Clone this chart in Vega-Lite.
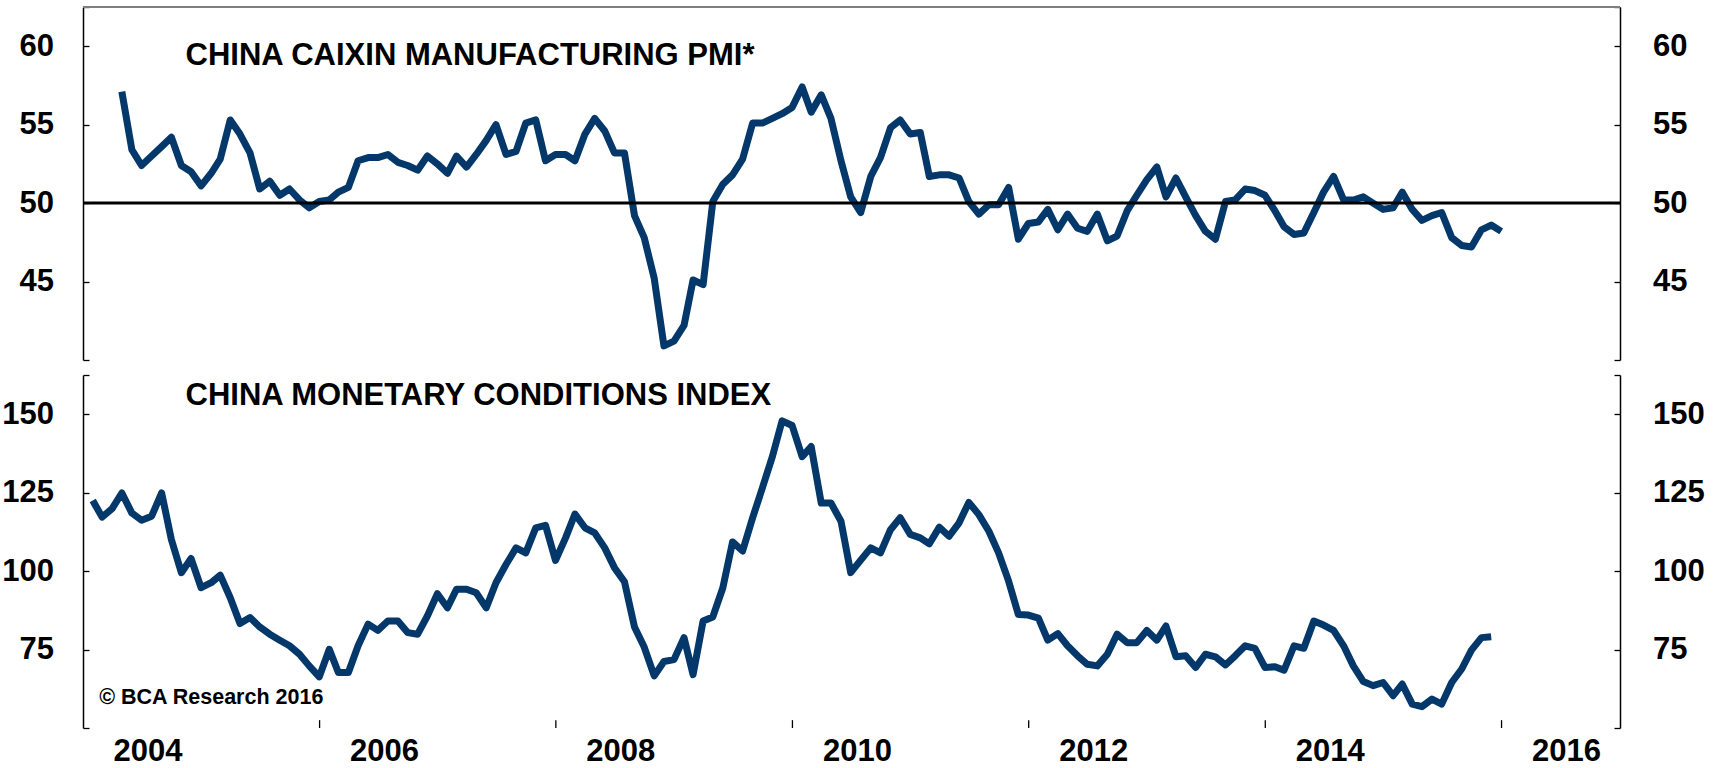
{
  "$schema": "https://vega.github.io/schema/vega-lite/v6.json",
  "background": "white",
  "padding": {"left": 1, "top": 6, "right": 5, "bottom": 0},
  "spacing": 13,
  "config": {
    "view": {"stroke": null},
    "axis": {"labelFont": "Liberation Sans", "labelFontSize": 31, "labelFontWeight": "bold", "labelColor": "black", "domainColor": "black", "tickColor": "black", "grid": false, "title": null, "domainWidth": 1.5, "tickWidth": 1.3},
    "text": {"font": "Liberation Sans", "fontWeight": "bold", "color": "black"}
  },
  "datasets": {
    "pmi": [
      {"date":"2004-04-30","value":57.1},{"date":"2004-05-31","value":53.4},{"date":"2004-06-30","value":52.4},{"date":"2004-07-31","value":53.0},{"date":"2004-08-31","value":53.6},{"date":"2004-09-30","value":54.2},{"date":"2004-10-31","value":52.4},{"date":"2004-11-30","value":52.0},{"date":"2004-12-31","value":51.1},
      {"date":"2005-01-31","value":51.9},{"date":"2005-02-28","value":52.8},{"date":"2005-03-31","value":55.3},{"date":"2005-04-30","value":54.4},{"date":"2005-05-31","value":53.2},{"date":"2005-06-30","value":50.9},{"date":"2005-07-31","value":51.4},{"date":"2005-08-31","value":50.5},{"date":"2005-09-30","value":50.9},{"date":"2005-10-31","value":50.2},{"date":"2005-11-30","value":49.7},{"date":"2005-12-31","value":50.1},
      {"date":"2006-01-31","value":50.2},{"date":"2006-02-28","value":50.7},{"date":"2006-03-31","value":51.0},{"date":"2006-04-30","value":52.7},{"date":"2006-05-31","value":52.9},{"date":"2006-06-30","value":52.9},{"date":"2006-07-31","value":53.1},{"date":"2006-08-31","value":52.6},{"date":"2006-09-30","value":52.4},{"date":"2006-10-31","value":52.1},{"date":"2006-11-30","value":53.0},{"date":"2006-12-31","value":52.5},
      {"date":"2007-01-31","value":51.9},{"date":"2007-02-28","value":53.0},{"date":"2007-03-31","value":52.3},{"date":"2007-04-30","value":53.1},{"date":"2007-05-31","value":54.0},{"date":"2007-06-30","value":55.0},{"date":"2007-07-31","value":53.1},{"date":"2007-08-31","value":53.3},{"date":"2007-09-30","value":55.1},{"date":"2007-10-31","value":55.3},{"date":"2007-11-30","value":52.7},{"date":"2007-12-31","value":53.1},
      {"date":"2008-01-31","value":53.1},{"date":"2008-02-29","value":52.7},{"date":"2008-03-31","value":54.4},{"date":"2008-04-30","value":55.4},{"date":"2008-05-31","value":54.6},{"date":"2008-06-30","value":53.2},{"date":"2008-07-31","value":53.2},{"date":"2008-08-31","value":49.2},{"date":"2008-09-30","value":47.8},{"date":"2008-10-31","value":45.2},{"date":"2008-11-30","value":40.9},{"date":"2008-12-31","value":41.2},
      {"date":"2009-01-31","value":42.2},{"date":"2009-02-28","value":45.1},{"date":"2009-03-31","value":44.8},{"date":"2009-04-30","value":50.1},{"date":"2009-05-31","value":51.2},{"date":"2009-06-30","value":51.8},{"date":"2009-07-31","value":52.8},{"date":"2009-08-31","value":55.1},{"date":"2009-09-30","value":55.1},{"date":"2009-10-31","value":55.4},{"date":"2009-11-30","value":55.7},{"date":"2009-12-31","value":56.1},
      {"date":"2010-01-31","value":57.4},{"date":"2010-02-28","value":55.8},{"date":"2010-03-31","value":56.9},{"date":"2010-04-30","value":55.4},{"date":"2010-05-31","value":52.7},{"date":"2010-06-30","value":50.4},{"date":"2010-07-31","value":49.4},{"date":"2010-08-31","value":51.7},{"date":"2010-09-30","value":52.9},{"date":"2010-10-31","value":54.8},{"date":"2010-11-30","value":55.3},{"date":"2010-12-31","value":54.4},
      {"date":"2011-01-31","value":54.5},{"date":"2011-02-28","value":51.7},{"date":"2011-03-31","value":51.8},{"date":"2011-04-30","value":51.8},{"date":"2011-05-31","value":51.6},{"date":"2011-06-30","value":50.1},{"date":"2011-07-31","value":49.3},{"date":"2011-08-31","value":49.9},{"date":"2011-09-30","value":49.9},{"date":"2011-10-31","value":51.0},{"date":"2011-11-30","value":47.7},{"date":"2011-12-31","value":48.7},
      {"date":"2012-01-31","value":48.8},{"date":"2012-02-29","value":49.6},{"date":"2012-03-31","value":48.3},{"date":"2012-04-30","value":49.3},{"date":"2012-05-31","value":48.4},{"date":"2012-06-30","value":48.2},{"date":"2012-07-31","value":49.3},{"date":"2012-08-31","value":47.6},{"date":"2012-09-30","value":47.9},{"date":"2012-10-31","value":49.5},{"date":"2012-11-30","value":50.5},{"date":"2012-12-31","value":51.5},
      {"date":"2013-01-31","value":52.3},{"date":"2013-02-28","value":50.4},{"date":"2013-03-31","value":51.6},{"date":"2013-04-30","value":50.4},{"date":"2013-05-31","value":49.2},{"date":"2013-06-30","value":48.2},{"date":"2013-07-31","value":47.7},{"date":"2013-08-31","value":50.1},{"date":"2013-09-30","value":50.2},{"date":"2013-10-31","value":50.9},{"date":"2013-11-30","value":50.8},{"date":"2013-12-31","value":50.5},
      {"date":"2014-01-31","value":49.5},{"date":"2014-02-28","value":48.5},{"date":"2014-03-31","value":48.0},{"date":"2014-04-30","value":48.1},{"date":"2014-05-31","value":49.4},{"date":"2014-06-30","value":50.7},{"date":"2014-07-31","value":51.7},{"date":"2014-08-31","value":50.2},{"date":"2014-09-30","value":50.2},{"date":"2014-10-31","value":50.4},{"date":"2014-11-30","value":50.0},{"date":"2014-12-31","value":49.6},
      {"date":"2015-01-31","value":49.7},{"date":"2015-02-28","value":50.7},{"date":"2015-03-31","value":49.6},{"date":"2015-04-30","value":48.9},{"date":"2015-05-31","value":49.2},{"date":"2015-06-30","value":49.4},{"date":"2015-07-31","value":47.8},{"date":"2015-08-31","value":47.3},{"date":"2015-09-30","value":47.2},{"date":"2015-10-31","value":48.3},{"date":"2015-11-30","value":48.6},{"date":"2015-12-31","value":48.2}
    ],
    "mci": [
      {"date":"2004-01-31","value":122.5},{"date":"2004-02-29","value":117.2},{"date":"2004-03-31","value":119.9},{"date":"2004-04-30","value":124.9},{"date":"2004-05-31","value":118.5},{"date":"2004-06-30","value":116.2},{"date":"2004-07-31","value":117.5},{"date":"2004-08-31","value":124.9},{"date":"2004-09-30","value":110.1},{"date":"2004-10-31","value":99.5},{"date":"2004-11-30","value":104.0},{"date":"2004-12-31","value":94.7},
      {"date":"2005-01-31","value":96.3},{"date":"2005-02-28","value":98.7},{"date":"2005-03-31","value":91.5},{"date":"2005-04-30","value":83.3},{"date":"2005-05-31","value":85.2},{"date":"2005-06-30","value":82.2},{"date":"2005-07-31","value":79.9},{"date":"2005-08-31","value":78.0},{"date":"2005-09-30","value":76.2},{"date":"2005-10-31","value":73.5},{"date":"2005-11-30","value":69.8},{"date":"2005-12-31","value":66.3},
      {"date":"2006-01-31","value":75.1},{"date":"2006-02-28","value":67.7},{"date":"2006-03-31","value":67.7},{"date":"2006-04-30","value":76.2},{"date":"2006-05-31","value":83.1},{"date":"2006-06-30","value":81.1},{"date":"2006-07-31","value":84.1},{"date":"2006-08-31","value":84.1},{"date":"2006-09-30","value":80.4},{"date":"2006-10-31","value":79.9},{"date":"2006-11-30","value":85.7},{"date":"2006-12-31","value":92.8},
      {"date":"2007-01-31","value":88.3},{"date":"2007-02-28","value":94.2},{"date":"2007-03-31","value":94.2},{"date":"2007-04-30","value":93.1},{"date":"2007-05-31","value":88.3},{"date":"2007-06-30","value":96.3},{"date":"2007-07-31","value":102.1},{"date":"2007-08-31","value":107.4},{"date":"2007-09-30","value":105.8},{"date":"2007-10-31","value":113.8},{"date":"2007-11-30","value":114.6},{"date":"2007-12-31","value":103.4},
      {"date":"2008-01-31","value":110.6},{"date":"2008-02-29","value":118.2},{"date":"2008-03-31","value":113.8},{"date":"2008-04-30","value":112.2},{"date":"2008-05-31","value":107.4},{"date":"2008-06-30","value":101.1},{"date":"2008-07-31","value":96.6},{"date":"2008-08-31","value":82.2},{"date":"2008-09-30","value":75.8},{"date":"2008-10-31","value":66.6},{"date":"2008-11-30","value":71.2},{"date":"2008-12-31","value":71.8},
      {"date":"2009-01-31","value":78.8},{"date":"2009-02-28","value":67.0},{"date":"2009-03-31","value":84.1},{"date":"2009-04-30","value":85.4},{"date":"2009-05-31","value":94.7},{"date":"2009-06-30","value":109.3},{"date":"2009-07-31","value":106.4},{"date":"2009-08-31","value":117.0},{"date":"2009-09-30","value":126.5},{"date":"2009-10-31","value":136.5},{"date":"2009-11-30","value":147.9},{"date":"2009-12-31","value":146.4},
      {"date":"2010-01-31","value":136.5},{"date":"2010-02-28","value":139.7},{"date":"2010-03-31","value":121.7},{"date":"2010-04-30","value":121.7},{"date":"2010-05-31","value":115.9},{"date":"2010-06-30","value":99.5},{"date":"2010-07-31","value":103.5},{"date":"2010-08-31","value":107.4},{"date":"2010-09-30","value":105.8},{"date":"2010-10-31","value":113.2},{"date":"2010-11-30","value":117.0},{"date":"2010-12-31","value":111.7},
      {"date":"2011-01-31","value":110.6},{"date":"2011-02-28","value":108.7},{"date":"2011-03-31","value":114.0},{"date":"2011-04-30","value":111.1},{"date":"2011-05-31","value":115.4},{"date":"2011-06-30","value":121.9},{"date":"2011-07-31","value":118.0},{"date":"2011-08-31","value":112.7},{"date":"2011-09-30","value":105.8},{"date":"2011-10-31","value":96.8},{"date":"2011-11-30","value":86.2},{"date":"2011-12-31","value":86.0},
      {"date":"2012-01-31","value":85.0},{"date":"2012-02-29","value":78.0},{"date":"2012-03-31","value":80.1},{"date":"2012-04-30","value":76.2},{"date":"2012-05-31","value":73.0},{"date":"2012-06-30","value":70.3},{"date":"2012-07-31","value":69.8},{"date":"2012-08-31","value":73.5},{"date":"2012-09-30","value":79.9},{"date":"2012-10-31","value":77.2},{"date":"2012-11-30","value":77.2},{"date":"2012-12-31","value":81.1},
      {"date":"2013-01-31","value":78.0},{"date":"2013-02-28","value":82.5},{"date":"2013-03-31","value":72.7},{"date":"2013-04-30","value":73.0},{"date":"2013-05-31","value":69.3},{"date":"2013-06-30","value":73.5},{"date":"2013-07-31","value":72.7},{"date":"2013-08-31","value":70.1},{"date":"2013-09-30","value":73.0},{"date":"2013-10-31","value":76.2},{"date":"2013-11-30","value":75.4},{"date":"2013-12-31","value":69.3},
      {"date":"2014-01-31","value":69.5},{"date":"2014-02-28","value":68.4},{"date":"2014-03-31","value":76.2},{"date":"2014-04-30","value":75.4},{"date":"2014-05-31","value":84.1},{"date":"2014-06-30","value":82.8},{"date":"2014-07-31","value":81.1},{"date":"2014-08-31","value":76.2},{"date":"2014-09-30","value":69.8},{"date":"2014-10-31","value":64.8},{"date":"2014-11-30","value":63.5},{"date":"2014-12-31","value":64.5},
      {"date":"2015-01-31","value":60.3},{"date":"2015-02-28","value":64.0},{"date":"2015-03-31","value":57.6},{"date":"2015-04-30","value":56.8},{"date":"2015-05-31","value":59.2},{"date":"2015-06-30","value":57.6},{"date":"2015-07-31","value":64.5},{"date":"2015-08-31","value":68.8},{"date":"2015-09-30","value":74.8},{"date":"2015-10-31","value":78.8},{"date":"2015-11-30","value":79.1}
    ],
    "majorticks": [
      {"date":"2006-01-01"},{"date":"2008-01-01"},{"date":"2010-01-01"},{"date":"2012-01-01"},{"date":"2014-01-01"},{"date":"2016-01-01"}
    ],
    "years": [
      {"year":"2004","date":"2004-01-01"},{"year":"2006","date":"2006-01-01"},{"year":"2008","date":"2008-01-01"},{"year":"2010","date":"2010-01-01"},{"year":"2012","date":"2012-01-01"},{"year":"2014","date":"2014-01-01"},{"year":"2016","date":"2016-01-01"}
    ]
  },
  "vconcat": [
    {
      "width": 1537,
      "height": 353,
      "resolve": {"axis": {"y": "independent"}},
      "layer": [
        {
          "data": {"name": "pmi"},
          "mark": {"type": "line", "color": "#05386a", "strokeWidth": 7, "strokeJoin": "round", "strokeCap": "butt"},
          "encoding": {
            "x": {"field": "date", "type": "temporal", "axis": null, "scale": {"domain": [{"year": 2004, "month": 1, "date": 1}, {"year": 2017, "month": 1, "date": 1}]}},
            "y": {"field": "value", "type": "quantitative", "scale": {"domain": [40, 62.5], "nice": false, "zero": false},
              "axis": {"orient": "left", "values": [40, 45, 50, 55, 60, 62.5], "labelExpr": "datum.value == 40 || datum.value == 62.5 ? '' : format(datum.value, 'd')", "tickSize": -6, "labelPadding": 35.6}}
          }
        },
        {
          "data": {"values": [{}]},
          "mark": {"type": "rule", "color": "#7f7f7f", "strokeWidth": 2},
          "encoding": {
            "y": {"datum": 62.5, "type": "quantitative", "scale": {"domain": [40, 62.5], "nice": false, "zero": false},
              "axis": {"orient": "right", "values": [40, 45, 50, 55, 60, 62.5], "labelExpr": "datum.value == 40 || datum.value == 62.5 ? '' : format(datum.value, 'd')", "tickSize": -6, "labelPadding": 38.4}}
          }
        },
        {
          "data": {"values": [{}]},
          "mark": {"type": "rule", "color": "black", "strokeWidth": 3},
          "encoding": {"y": {"datum": 50, "type": "quantitative", "axis": null}}
        },
        {
          "data": {"values": [{}]},
          "mark": {"type": "text", "fontSize": 31, "align": "left", "baseline": "alphabetic", "text": "CHINA CAIXIN MANUFACTURING PMI*"},
          "encoding": {
            "x": {"datum": {"year": 2004, "month": 11, "date": 13}, "type": "temporal", "axis": null},
            "y": {"datum": 58.83, "type": "quantitative", "axis": null}
          }
        }
      ]
    },
    {
      "width": 1537,
      "height": 353,
      "resolve": {"axis": {"y": "independent"}},
      "layer": [
        {
          "data": {"name": "mci"},
          "mark": {"type": "line", "color": "#05386a", "strokeWidth": 7, "strokeJoin": "round", "strokeCap": "butt"},
          "encoding": {
            "x": {"field": "date", "type": "temporal",
              "scale": {"domain": [{"year": 2004, "month": 1, "date": 1}, {"year": 2017, "month": 1, "date": 1}]},
              "axis": {
                "tickCount": {"interval": "month", "step": 6},
                "tickSize": -3.5,
                "labels": false
              }
            },
            "y": {"field": "value", "type": "quantitative", "scale": {"domain": [50, 162.5], "nice": false, "zero": false},
              "axis": {"orient": "left", "values": [50, 75, 100, 125, 150, 162.5], "labelExpr": "datum.value == 50 || datum.value == 162.5 ? '' : format(datum.value, 'd')", "tickSize": -6, "labelPadding": 35.6}}
          }
        },
        {
          "data": {"name": "majorticks"},
          "mark": {"type": "rule", "color": "black", "strokeWidth": 1.3},
          "encoding": {
            "x": {"field": "date", "type": "temporal", "axis": null},
            "y": {"datum": 50, "type": "quantitative", "axis": null},
            "y2": {"datum": 52.5}
          }
        },
        {
          "data": {"name": "years"},
          "mark": {"type": "text", "fontSize": 31, "align": "center", "baseline": "alphabetic", "dx": 65},
          "encoding": {
            "x": {"field": "date", "type": "temporal", "axis": null},
            "y": {"datum": 39.6, "type": "quantitative", "axis": null},
            "text": {"field": "year", "type": "nominal"}
          }
        },
        {
          "data": {"values": [{}]},
          "mark": {"type": "text", "fontSize": 21.5, "align": "left", "baseline": "alphabetic", "text": "© BCA Research 2016"},
          "encoding": {
            "x": {"datum": {"year": 2004, "month": 2, "date": 20}, "type": "temporal", "axis": null},
            "y": {"datum": 57.5, "type": "quantitative", "scale": {"domain": [50, 162.5], "nice": false, "zero": false},
              "axis": {"orient": "right", "values": [50, 75, 100, 125, 150, 162.5], "labelExpr": "datum.value == 50 || datum.value == 162.5 ? '' : format(datum.value, 'd')", "tickSize": -6, "labelPadding": 38.4}}
          }
        },
        {
          "data": {"values": [{}]},
          "mark": {"type": "text", "fontSize": 31, "align": "left", "baseline": "alphabetic", "text": "CHINA MONETARY CONDITIONS INDEX"},
          "encoding": {
            "x": {"datum": {"year": 2004, "month": 11, "date": 13}, "type": "temporal", "axis": null},
            "y": {"datum": 153, "type": "quantitative", "axis": null}
          }
        }
      ]
    }
  ]
}
